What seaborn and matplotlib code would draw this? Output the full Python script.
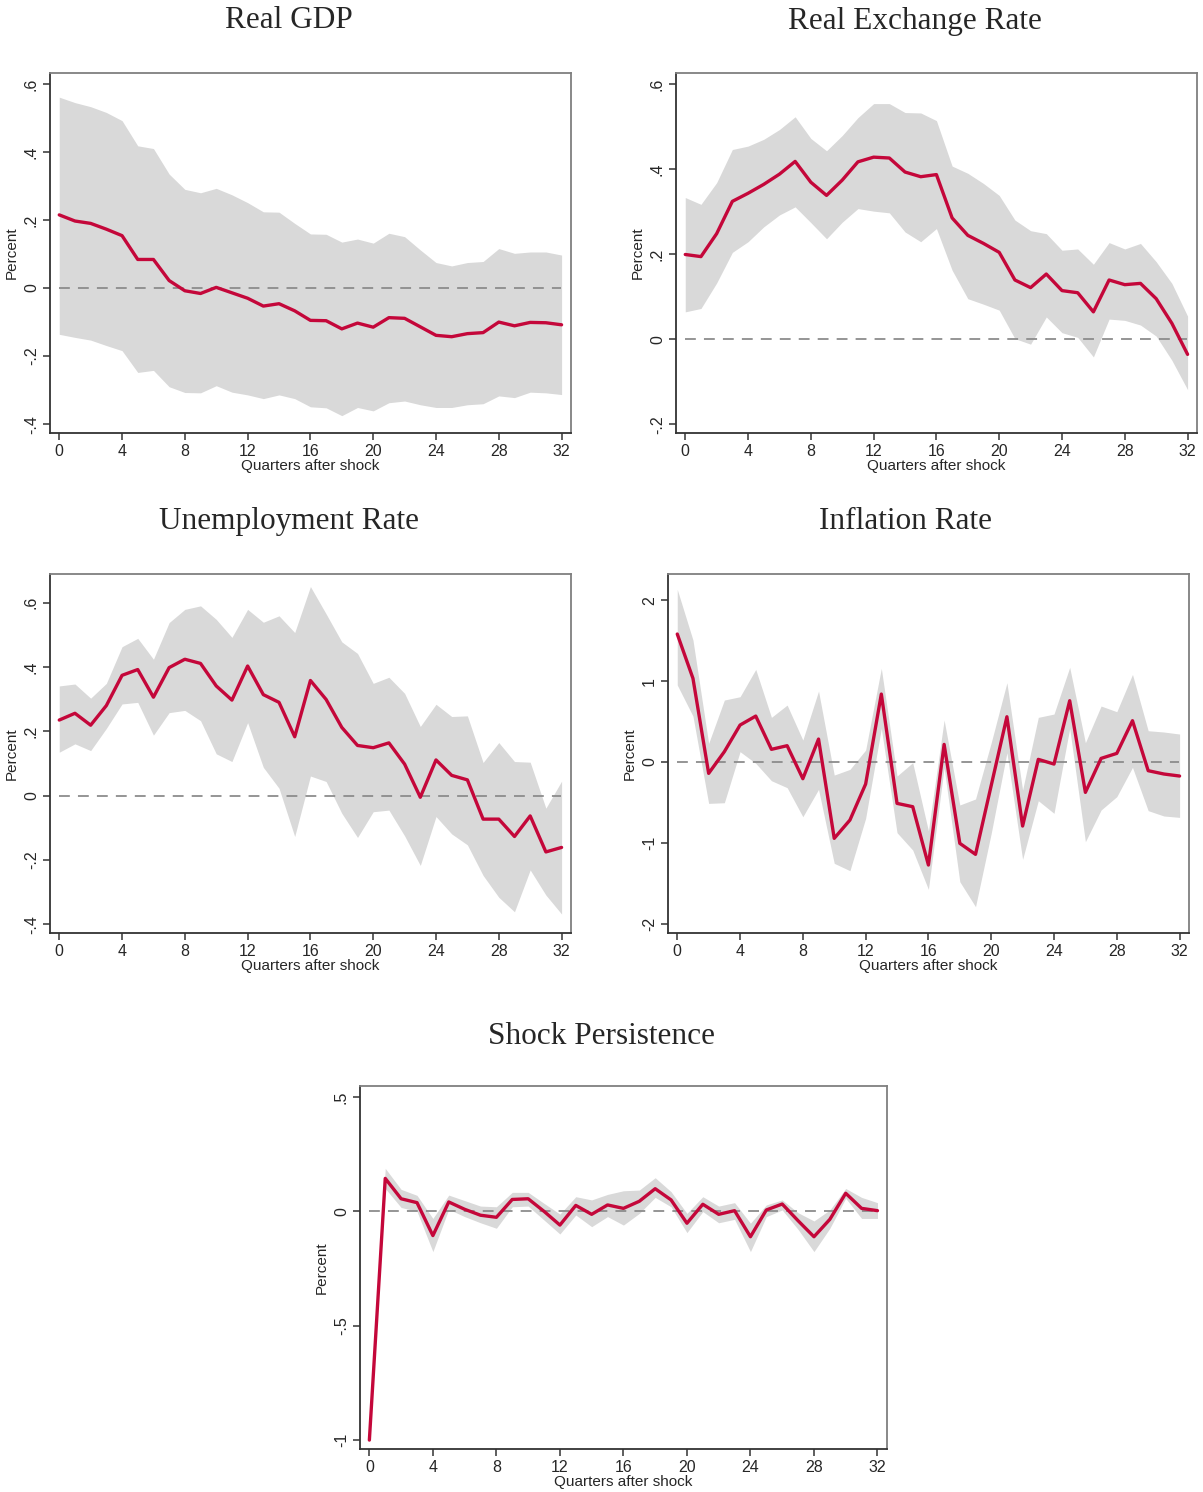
import numpy as np
import pandas as pd
import seaborn as sns
import matplotlib
matplotlib.use("Agg")
import matplotlib.pyplot as plt

# quarters after shock
quarters = list(range(33))

# Real GDP
gdp_irf = [0.215, 0.197, 0.19, 0.173, 0.154, 0.084, 0.084, 0.022, -0.008, -0.016, 0.002,
           -0.014, -0.03, -0.053, -0.046, -0.067, -0.095, -0.096, -0.12, -0.103, -0.115,
           -0.087, -0.089, -0.114, -0.139, -0.143, -0.134, -0.131, -0.1, -0.111, -0.101,
           -0.102, -0.108]
gdp_hi = [0.561, 0.545, 0.533, 0.516, 0.492, 0.418, 0.41, 0.335, 0.29, 0.28, 0.293,
          0.274, 0.251, 0.224, 0.223, 0.19, 0.159, 0.158, 0.135, 0.144, 0.132,
          0.161, 0.151, 0.112, 0.075, 0.065, 0.075, 0.078, 0.116, 0.102, 0.106,
          0.106, 0.097]
gdp_lo = [-0.136, -0.145, -0.153, -0.169, -0.184, -0.248, -0.242, -0.29, -0.307, -0.308, -0.287,
          -0.306, -0.314, -0.325, -0.314, -0.325, -0.349, -0.352, -0.375, -0.351, -0.361,
          -0.337, -0.332, -0.343, -0.351, -0.351, -0.343, -0.34, -0.317, -0.322, -0.306,
          -0.308, -0.313]

# Real exchange rate
rer_irf = [0.2, 0.195, 0.249, 0.325, 0.344, 0.365, 0.389, 0.419, 0.37, 0.339, 0.375,
           0.418, 0.429, 0.427, 0.394, 0.383, 0.388, 0.286, 0.245, 0.226, 0.205,
           0.14, 0.122, 0.154, 0.115, 0.11, 0.065, 0.14, 0.129, 0.132, 0.096,
           0.038, -0.035]
rer_hi = [0.334, 0.318, 0.369, 0.447, 0.455, 0.471, 0.494, 0.524, 0.473, 0.444, 0.48,
          0.522, 0.555, 0.555, 0.534, 0.533, 0.515, 0.408, 0.391, 0.367, 0.339,
          0.281, 0.256, 0.249, 0.21, 0.213, 0.177, 0.228, 0.213, 0.226, 0.183,
          0.132, 0.055]
rer_lo = [0.065, 0.073, 0.133, 0.205, 0.23, 0.265, 0.293, 0.312, 0.275, 0.237, 0.276,
          0.308, 0.302, 0.298, 0.253, 0.23, 0.261, 0.163, 0.096, 0.083, 0.069,
          0.002, -0.011, 0.053, 0.016, 0.005, -0.041, 0.048, 0.045, 0.034, 0.008,
          -0.049, -0.118]

# Unemployment rate
unemp_irf = [0.235, 0.256, 0.219, 0.28, 0.374, 0.392, 0.306, 0.398, 0.424, 0.411, 0.341,
             0.297, 0.403, 0.314, 0.29, 0.183, 0.358, 0.299, 0.212, 0.156, 0.149,
             0.164, 0.098, -0.005, 0.111, 0.063, 0.049, -0.073, -0.073, -0.127, -0.063,
             -0.175, -0.161]
unemp_hi = [0.341, 0.347, 0.303, 0.349, 0.463, 0.489, 0.424, 0.538, 0.579, 0.59, 0.548,
            0.492, 0.579, 0.539, 0.559, 0.507, 0.65, 0.565, 0.478, 0.442, 0.349,
            0.368, 0.318, 0.215, 0.284, 0.246, 0.248, 0.103, 0.165, 0.106, 0.104,
            -0.039, 0.045]
unemp_lo = [0.135, 0.161, 0.14, 0.209, 0.285, 0.29, 0.188, 0.258, 0.265, 0.233, 0.13,
            0.106, 0.227, 0.088, 0.023, -0.127, 0.061, 0.044, -0.055, -0.13, -0.05,
            -0.045, -0.125, -0.217, -0.065, -0.119, -0.153, -0.248, -0.316, -0.361, -0.231,
            -0.309, -0.368]

# Inflation rate
infl_irf = [1.582, 1.034, -0.14, 0.128, 0.457, 0.568, 0.157, 0.202, -0.206, 0.284, -0.943,
            -0.717, -0.272, 0.84, -0.511, -0.552, -1.273, 0.218, -1.005, -1.141, -0.29,
            0.56, -0.791, 0.033, -0.025, 0.758, -0.375, 0.045, 0.107, 0.511, -0.107,
            -0.148, -0.173]
infl_hi = [2.134, 1.508, 0.231, 0.766, 0.807, 1.145, 0.552, 0.704, 0.272, 0.877, -0.161,
           -0.091, 0.148, 1.158, -0.173, -0.008, -0.85, 0.519, -0.531, -0.457, 0.239,
           0.98, -0.346, 0.552, 0.593, 1.17, 0.239, 0.692, 0.622, 1.083, 0.387,
           0.371, 0.346]
infl_lo = [0.952, 0.568, -0.511, -0.503, 0.128, -0.016, -0.231, -0.317, -0.676, -0.338, -1.252,
           -1.343, -0.696, 0.416, -0.873, -1.088, -1.574, -0.07, -1.479, -1.788, -0.882,
           0.115, -1.203, -0.478, -0.634, 0.416, -0.985, -0.593, -0.428, -0.066, -0.601,
           -0.667, -0.684]

# Shock persistence
shock_irf = [-1.0, 0.144, 0.055, 0.038, -0.106, 0.041, 0.009, -0.017, -0.026, 0.052, 0.055,
             0.0, -0.06, 0.026, -0.013, 0.028, 0.013, 0.044, 0.099, 0.05, -0.052,
             0.031, -0.013, 0.003, -0.111, 0.006, 0.032, -0.041, -0.111, -0.035, 0.079,
             0.013, 0.003]
shock_hi = [-1.0, 0.188, 0.096, 0.07, -0.031, 0.071, 0.047, 0.023, 0.02, 0.083, 0.083,
            0.035, -0.012, 0.064, 0.05, 0.074, 0.09, 0.093, 0.147, 0.086, -0.009,
            0.064, 0.023, 0.038, -0.052, 0.028, 0.05, -0.006, -0.042, 0.006, 0.1,
            0.061, 0.038]
shock_lo = [-1.0, 0.1, 0.017, 0.0, -0.176, 0.009, -0.023, -0.05, -0.074, 0.02, 0.023,
            -0.038, -0.099, -0.016, -0.067, -0.023, -0.06, -0.009, 0.061, 0.02, -0.093,
            -0.001, -0.05, -0.035, -0.176, -0.023, 0.006, -0.079, -0.176, -0.074, 0.057,
            -0.031, -0.031]

x_ticks = [0, 4, 8, 12, 16, 20, 24, 28, 32]

sns.set_style("white")
plt.rcParams['font.family'] = ['Liberation Sans', 'DejaVu Sans']

fig = plt.figure(figsize=(12.03, 14.92), dpi=100)
W, H = 1203, 1492

def px_axes(left, top, right, bottom):
    return fig.add_axes([left / W, 1 - bottom / H, (right - left) / W, (bottom - top) / H])

# (title, irf, hi, lo, axes box in px, ylim, yticks, ylabels, title pos)
panels = [
    ("Real GDP", gdp_irf, gdp_hi, gdp_lo, (50, 73, 571, 433), (-0.426, 0.632),
     [-0.4, -0.2, 0, 0.2, 0.4, 0.6], ["-.4", "-.2", "0", ".2", ".4", ".6"], (289, 21)),
    ("Real Exchange Rate", rer_irf, rer_hi, rer_lo, (676, 73, 1197, 433), (-0.22, 0.627),
     [-0.2, 0, 0.2, 0.4, 0.6], ["-.2", "0", ".2", ".4", ".6"], (915, 21)),
    ("Unemployment Rate", unemp_irf, unemp_hi, unemp_lo, (50, 574, 571, 933), (-0.427, 0.689),
     [-0.4, -0.2, 0, 0.2, 0.4, 0.6], ["-.4", "-.2", "0", ".2", ".4", ".6"], (289, 521)),
    ("Inflation Rate", infl_irf, infl_hi, infl_lo, (668, 574, 1189, 933), (-2.113, 2.324),
     [-2, -1, 0, 1, 2], ["-2", "-1", "0", "1", "2"], (906, 521)),
    ("Shock Persistence", shock_irf, shock_hi, shock_lo, (360, 1086, 887, 1449), (-1.039, 0.548),
     [-1, -0.5, 0, 0.5], ["-1", "-.5", "0", ".5"], (601, 1037)),
]

for title, irf, hi, lo, box, ylim, yt, ylab, tpos in panels:
    ax = px_axes(*box)
    df = pd.DataFrame({"q": quarters, "irf": irf, "hi": hi, "lo": lo})
    ax.fill_between(df["q"], df["lo"], df["hi"], color="#d9d9d9", linewidth=0, zorder=1)
    ax.axhline(0, color="#8c8c8c", lw=1.3, ls=(0, (6, 4.5)), zorder=2,
               xmin=0.59 / 33.2, xmax=32.59 / 33.2)
    sns.lineplot(data=df, x="q", y="irf", ax=ax, color="#c4073a", lw=2.4, zorder=3)
    ax.set_xlim(-0.59, 32.6)
    ax.set_ylim(*ylim)
    ax.set_xticks(x_ticks)
    ax.set_xticklabels([str(t) for t in x_ticks], fontsize=11.5)
    ax.set_yticks(yt)
    ax.set_yticklabels(ylab, fontsize=11.5, rotation=90, va="center")
    ax.tick_params(axis="both", direction="out", length=5, width=1.1, color="#333333",
                   left=True, bottom=True, pad=3)
    ax.set_xlabel("Quarters after shock", fontsize=11, labelpad=0)
    ax.set_ylabel("Percent", fontsize=11, labelpad=4)
    for side in ["left", "bottom"]:
        ax.spines[side].set_color("#333333")
        ax.spines[side].set_linewidth(1.3)
    for side in ["top", "right"]:
        ax.spines[side].set_color("#7f7f7f")
        ax.spines[side].set_linewidth(1.3)
    fig.text(tpos[0] / W, 1 - tpos[1] / H, title, ha="center", va="center",
             fontsize=22.5, family=["Liberation Serif", "DejaVu Serif"])

plt.savefig("out.png", dpi=100)
